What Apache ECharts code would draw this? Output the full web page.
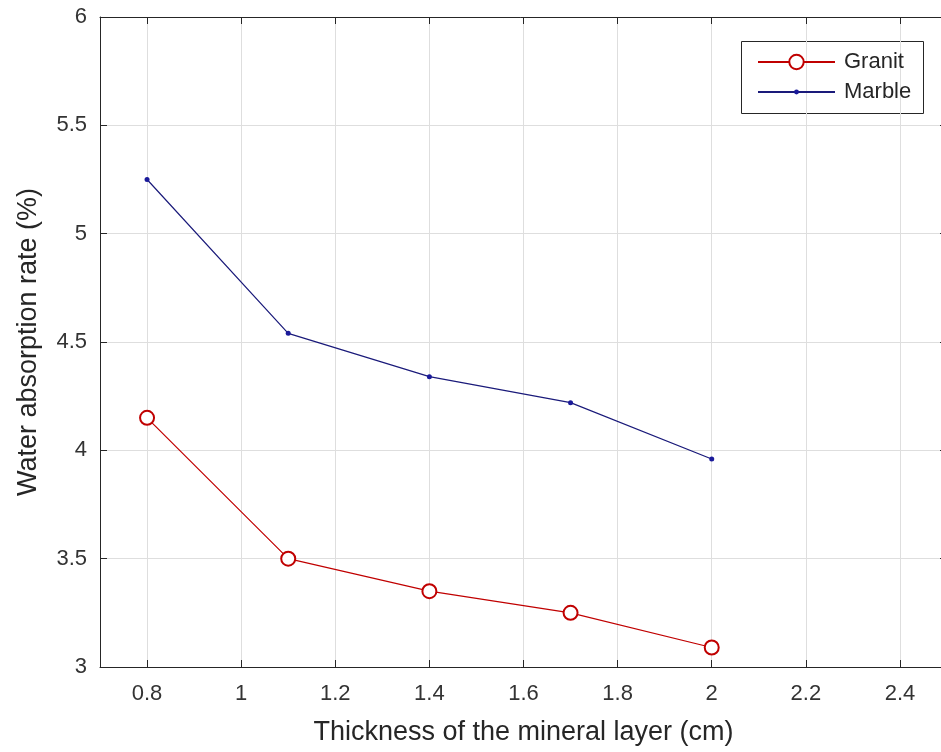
<!DOCTYPE html>
<html>
<head>
<meta charset="utf-8">
<script src="https://cdn.jsdelivr.net/npm/echarts@6/dist/echarts.min.js"></script>
<style>
html,body{margin:0;padding:0;background:#fff;}
#chart{width:941px;height:752px;}
</style>
</head>
<body>
<div id="chart"></div>
<script>
const thickness = [0.8, 1.1, 1.4, 1.7, 2.0];
const granit = [4.15, 3.50, 3.35, 3.25, 3.09];
const marble = [5.25, 4.54, 4.34, 4.22, 3.96];
const xTickValues = [0.8, 1.0, 1.2, 1.4, 1.6, 1.8, 2.0, 2.2, 2.4];
const xRange = [0.7, 2.5];
const yTicks = {min: 3, max: 6, interval: 0.5};

const axisCol = '#262626';
const txtCol = '#333333';
const gridCol = '#dedede';
const fontFam = '"Liberation Sans", Arial, Helvetica, sans-serif';

const chart = echarts.init(document.getElementById('chart'), null, {renderer: 'canvas'});

function xAxisBase(pos, show) {
  return {
    type: 'value', position: pos,
    min: xRange[0], max: xRange[1],
    axisLine: {show: true, onZero: false, lineStyle: {color: axisCol, width: 1}},
    axisTick: {show: true, inside: true, length: 7, customValues: xTickValues, lineStyle: {color: axisCol}},
    axisLabel: {
      show: show, margin: 16, color: txtCol, fontSize: 22, fontFamily: fontFam,
      customValues: xTickValues,
      formatter: v => String(+(+v).toFixed(1))
    },
    splitLine: {show: show, lineStyle: {color: gridCol, width: 1}},
  };
}
function yAxisBase(pos, show) {
  return {
    type: 'value', position: pos,
    min: yTicks.min, max: yTicks.max, interval: yTicks.interval,
    axisLine: {show: true, onZero: false, lineStyle: {color: axisCol, width: 1}},
    axisTick: {show: true, inside: true, length: 7, lineStyle: {color: axisCol}},
    axisLabel: {
      show: show, margin: 13, color: txtCol, fontSize: 22, fontFamily: fontFam,
      formatter: v => String(+v.toFixed(1))
    },
    splitLine: {show: show, lineStyle: {color: gridCol, width: 1}},
  };
}

const xb = xAxisBase('bottom', true);
xb.name = 'Thickness of the mineral layer (cm)';
xb.nameLocation = 'middle';
xb.nameGap = 52;
xb.nameTextStyle = {color: '#262626', fontSize: 27, fontFamily: fontFam};
const xt = xAxisBase('top', false);

const yl = yAxisBase('left', true);
yl.name = 'Water absorption rate (%)';
yl.nameLocation = 'middle';
yl.nameGap = 58;
yl.nameTextStyle = {color: '#262626', fontSize: 27, fontFamily: fontFam};
const yr = yAxisBase('right', false);

const legendCommon = {
  orient: 'vertical',
  left: 757,
  padding: 0,
  itemWidth: 77,
  textStyle: {color: '#262626', fontSize: 22, fontFamily: fontFam, padding: [0, 0, 0, 4]},
};

const option = {
  animation: false,
  backgroundColor: '#ffffff',
  grid: {left: 100, top: 17, right: -6, bottom: 85, containLabel: false, outerBoundsMode: 'none'},
  graphic: [{
    type: 'rect', left: 741, top: 41, z: 0,
    shape: {width: 182, height: 72},
    style: {fill: '#fff', stroke: axisCol, lineWidth: 1}
  }],
  xAxis: [xb, xt],
  yAxis: [yl, yr],
  legend: [
    Object.assign({}, legendCommon, {top: 51, itemHeight: 18, data: ['Granit']}),
    Object.assign({}, legendCommon, {top: 81, itemHeight: 6, data: ['Marble']})
  ],
  series: [
    {
      name: 'Granit', type: 'line',
      data: thickness.map((x, i) => [x, granit[i]]),
      symbol: 'emptyCircle', symbolSize: 14,
      lineStyle: {color: '#c00000', width: 1.2},
      itemStyle: {color: '#c00000', borderColor: '#c00000', borderWidth: 1},
      xAxisIndex: 0, yAxisIndex: 0
    },
    {
      name: 'Marble', type: 'line',
      data: thickness.map((x, i) => [x, marble[i]]),
      symbol: 'circle', symbolSize: 5,
      lineStyle: {color: '#1a1a7a', width: 1.2},
      itemStyle: {color: '#1a1a9a'},
      xAxisIndex: 0, yAxisIndex: 0
    }
  ]
};
chart.setOption(option);
</script>
</body>
</html>
